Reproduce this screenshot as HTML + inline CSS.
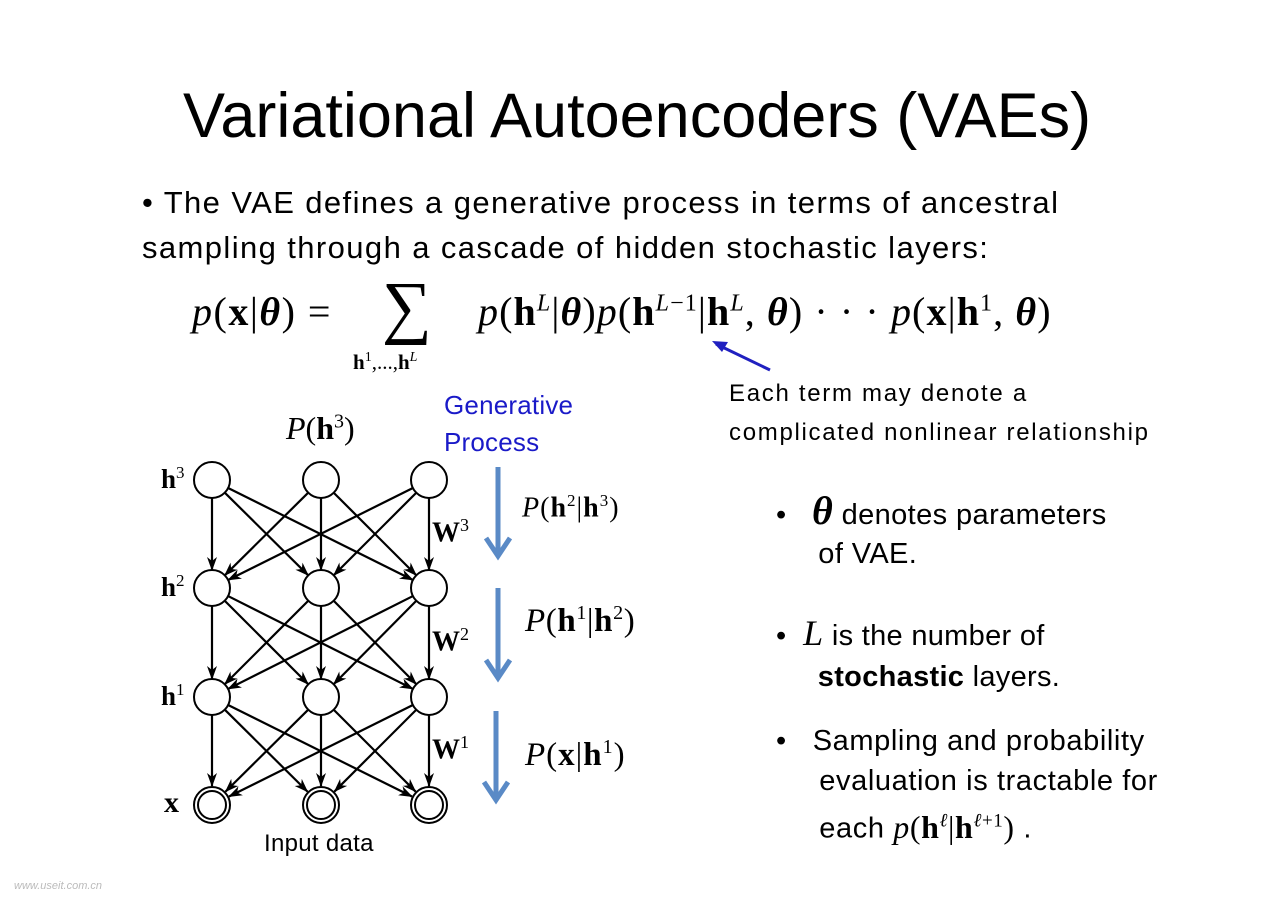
<!DOCTYPE html>
<html><head><meta charset="utf-8"><style>
body{margin:0;width:1280px;height:904px;background:#fff;position:relative;overflow:hidden;font-family:"Liberation Sans",sans-serif;color:#000}
.a{position:absolute;white-space:nowrap}
.m{font-family:"Liberation Serif",serif}
i{font-style:italic}
</style></head><body>
<div class="a" style="left:183px;top:80px;font-size:63px">Variational Autoencoders (VAEs)</div>
<div class="a" style="left:142px;top:180px;font-size:31px;line-height:45px;letter-spacing:1.4px">• The VAE defines a generative process in terms of ancestral<br>sampling through a cascade of hidden stochastic layers:</div>
<div class="a m" style="left:192px;top:288px;font-size:40px;letter-spacing:1.5px"><i>p</i>(<b>x</b>|<b><i>θ</i></b>) =</div>
<div class="a m" style="left:382px;top:268px;font-size:70px">∑</div>
<div class="a m" style="left:353px;top:350px;font-size:21px"><b>h</b><sup style="font-size:14px">1</sup>,...,<b>h</b><sup style="font-size:14px"><i>L</i></sup></div>
<div class="a m" style="left:478px;top:288px;font-size:40px;letter-spacing:1.1px"><i>p</i>(<b>h</b><sup style="font-size:24px"><i>L</i></sup>|<b><i>θ</i></b>)<i>p</i>(<b>h</b><sup style="font-size:24px"><i>L</i>−1</sup>|<b>h</b><sup style="font-size:24px"><i>L</i></sup>, <b><i>θ</i></b>) · · · <i>p</i>(<b>x</b>|<b>h</b><sup style="font-size:24px">1</sup>, <b><i>θ</i></b>)</div>
<svg class="a" style="left:0;top:0" width="1280" height="904">
<defs><marker id="k" markerWidth="14" markerHeight="12" refX="13" refY="6" orient="auto" markerUnits="userSpaceOnUse"><path d="M0,1 L14,6 L0,11 L4,6z" fill="#000"/></marker></defs>
<line x1="770" y1="370" x2="716" y2="344" stroke="#2020c0" stroke-width="3"/>
<path d="M712,341 L728,342 L722,352z" fill="#2020c0"/>
<g fill="#5a8ac6" stroke="#5a8ac6">
<line x1="498" y1="467" x2="498" y2="552" stroke-width="5"/>
<path d="M486,538 L498,556 L510,538" stroke-width="5" fill="none"/>
<line x1="498" y1="588" x2="498" y2="674" stroke-width="5"/>
<path d="M486,660 L498,678 L510,660" stroke-width="5" fill="none"/>
<line x1="496" y1="711" x2="496" y2="796" stroke-width="5"/>
<path d="M484,782 L496,800 L508,782" stroke-width="5" fill="none"/>
</g>
<g id="net"></g>
</svg>
<script>
var xs=[212,321,429],ys=[480,588,697,805],r=18,s='';
for(var l=0;l<3;l++)for(var i=0;i<3;i++)for(var j=0;j<3;j++){
var x1=xs[i],y1=ys[l],x2=xs[j],y2=ys[l+1],dx=x2-x1,dy=y2-y1,d=Math.hypot(dx,dy);
var r2=l==2?r+1:r;
s+='<line x1="'+(x1+dx/d*r)+'" y1="'+(y1+dy/d*r)+'" x2="'+(x2-dx/d*r2)+'" y2="'+(y2-dy/d*r2)+'" stroke="#000" stroke-width="2.2" marker-end="url(#k)"/>';}
for(var l=0;l<4;l++)for(var i=0;i<3;i++){
s+='<circle cx="'+xs[i]+'" cy="'+ys[l]+'" r="'+r+'" fill="#fff" stroke="#000" stroke-width="2"/>';
if(l==3)s+='<circle cx="'+xs[i]+'" cy="'+ys[l]+'" r="'+(r-4)+'" fill="#fff" stroke="#000" stroke-width="2"/>';}
document.getElementById('net').innerHTML=s;
</script>
<div class="a m" style="left:286px;top:410px;font-size:32px"><i>P</i>(<b>h</b><sup style="font-size:20px">3</sup>)</div>
<div class="a m" style="left:161px;top:463px;font-size:27px"><b>h</b><sup style="font-size:17px">3</sup></div>
<div class="a m" style="left:161px;top:571px;font-size:27px"><b>h</b><sup style="font-size:17px">2</sup></div>
<div class="a m" style="left:161px;top:680px;font-size:27px"><b>h</b><sup style="font-size:17px">1</sup></div>
<div class="a m" style="left:164px;top:786px;font-size:30px"><b>x</b></div>
<div class="a m" style="left:432px;top:515px;font-size:28px"><b>W</b><sup style="font-size:18px">3</sup></div>
<div class="a m" style="left:432px;top:624px;font-size:28px"><b>W</b><sup style="font-size:18px">2</sup></div>
<div class="a m" style="left:432px;top:732px;font-size:28px"><b>W</b><sup style="font-size:18px">1</sup></div>
<div class="a m" style="left:522px;top:491px;font-size:28px;letter-spacing:1px"><i>P</i>(<b>h</b><sup style="font-size:17px">2</sup>|<b>h</b><sup style="font-size:17px">3</sup>)</div>
<div class="a m" style="left:525px;top:602px;font-size:33px;letter-spacing:0.6px"><i>P</i>(<b>h</b><sup style="font-size:20px">1</sup>|<b>h</b><sup style="font-size:20px">2</sup>)</div>
<div class="a m" style="left:525px;top:736px;font-size:33px;letter-spacing:1px"><i>P</i>(<b>x</b>|<b>h</b><sup style="font-size:20px">1</sup>)</div>
<div class="a" style="left:444px;top:387px;font-size:26px;color:#1a1ac8;line-height:37px;letter-spacing:0.2px">Generative<br>Process</div>
<div class="a" style="left:264px;top:830px;font-size:24px;letter-spacing:0.3px">Input data</div>
<div class="a" style="left:729px;top:374px;font-size:24px;line-height:39px;letter-spacing:1.7px">Each term may denote a<br>complicated nonlinear relationship</div>
<div class="a" style="left:776px;top:491px;font-size:29px;line-height:39px;letter-spacing:0.4px">•&nbsp;&nbsp;&nbsp;<span class="m" style="font-size:40px"><b><i>θ</i></b></span> denotes parameters<br>&nbsp;&nbsp;&nbsp;&nbsp;&nbsp;of VAE.</div>
<div class="a" style="left:776px;top:613px;font-size:29px;line-height:41px;letter-spacing:0.3px">•&nbsp;&nbsp;<span class="m" style="font-size:36px"><i>L</i></span> is the number of<br>&nbsp;&nbsp;&nbsp;&nbsp;&nbsp;<b>stochastic</b> layers.</div>
<div class="a" style="left:776px;top:721px;font-size:29px;line-height:40px;letter-spacing:0.6px">•&nbsp;&nbsp;&nbsp;Sampling and probability<br>&nbsp;&nbsp;&nbsp;&nbsp;&nbsp;evaluation is tractable for<br>&nbsp;&nbsp;&nbsp;&nbsp;&nbsp;each <span class="m" style="font-size:32px"><i>p</i>(<b>h</b><sup style="font-size:19px"><i>ℓ</i></sup>|<b>h</b><sup style="font-size:19px"><i>ℓ</i>+1</sup>)</span> .</div>
<div class="a" style="left:14px;top:880px;font-size:11px;color:#bbb;font-style:italic">www.useit.com.cn</div>
</body></html>
